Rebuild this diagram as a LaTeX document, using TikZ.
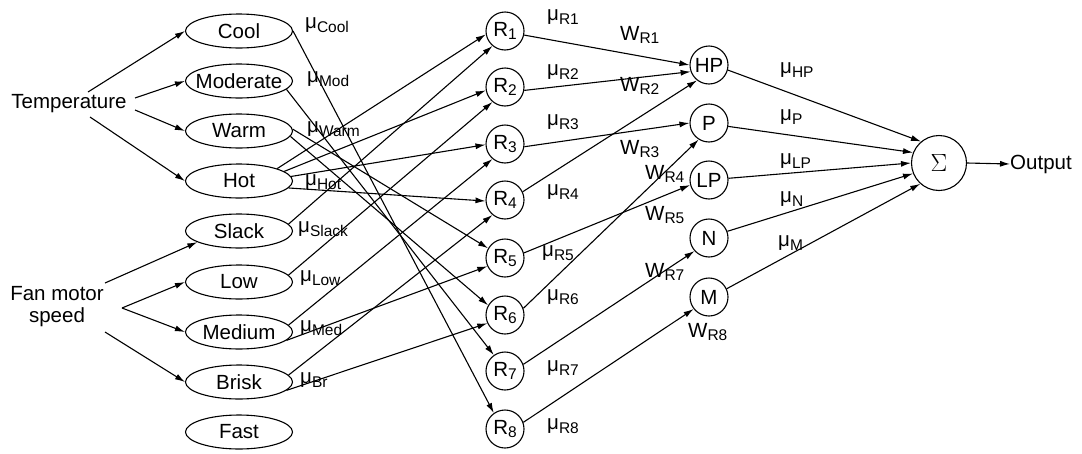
\documentclass[tikz,border=0pt]{standalone}
\usepackage{fontspec}
\setmainfont{Liberation Sans}
\usetikzlibrary{shapes.geometric,arrows.meta}
\newcommand\ssub[1]{\raisebox{-0.35ex}{\fontsize{15.5}{15.5}\selectfont #1}}
\newcommand\mulab[1]{μ\ssub{#1}}
\newcommand\wlab[1]{W\ssub{R#1}}
\newcommand\rlab[1]{R\ssub{#1}}
\begin{document}
\begin{tikzpicture}[x=1pt,y=-1pt,
  font=\fontsize{20.5}{22}\selectfont,
  ell/.style={ellipse, draw, line width=1.1pt, minimum width=107pt, minimum height=34pt, inner sep=0pt},
  rc/.style={circle, draw, line width=1.1pt, minimum size=38pt, inner sep=0pt},
  sg/.style={circle, draw, line width=1.1pt, minimum size=55pt, inner sep=0pt},
  lab/.style={inner sep=0pt, anchor=west},
  con/.style={line width=1.1pt},
  arr/.style={line width=1.1pt, -{Latex[length=10pt,width=6pt]}}]
\useasboundingbox (0,0) rectangle (1082,453);

% input variables
\node (temp) at (69,104) {Temperature};
\node[align=center, inner sep=0pt] (fan) at (57,307) {Fan motor\\[0pt]speed};
\coordinate (t1) at (88,92);
\coordinate (t2) at (135,98);
\coordinate (t3) at (135,110);
\coordinate (t4) at (90,117);
\coordinate (f1) at (105,283);
\coordinate (f2) at (122,308);
\coordinate (f3) at (105,332);

% fuzzy sets
\node[ell] (cool) at (239,31) {\makebox[0pt]{Cool}};
\node[ell] (moderate) at (239,81) {\makebox[0pt]{Moderate}};
\node[ell] (warm) at (239,131) {\makebox[0pt]{Warm}};
\node[ell] (hot) at (239,181) {\makebox[0pt]{Hot}};
\node[ell] (slack) at (239,231) {\makebox[0pt]{Slack}};
\node[ell] (low) at (239,282) {\makebox[0pt]{Low}};
\node[ell] (medium) at (239,332) {\makebox[0pt]{Medium}};
\node[ell] (brisk) at (239,382) {\makebox[0pt]{Brisk}};
\node[ell] (fast) at (239,432) {\makebox[0pt]{Fast}};

\draw[arr] (t1) -- (cool.west);
\draw[arr] (t2) -- (moderate.west);
\draw[arr] (t3) -- (warm.west);
\draw[arr] (t4) -- (hot.west);
\draw[arr] (f1) -- (slack.195);
\draw[arr] (f2) -- (low.west);
\draw[arr] (f2) -- (medium.west);
\draw[arr] (f3) -- (brisk.west);

% rules
\node[rc] (r1) at (505,31) {\rlab{1}};
\node[rc] (r2) at (505,87) {\rlab{2}};
\node[rc] (r3) at (505,144) {\rlab{3}};
\node[rc] (r4) at (505,200) {\rlab{4}};
\node[rc] (r5) at (505,258) {\rlab{5}};
\node[rc] (r6) at (505,315) {\rlab{6}};
\node[rc] (r7) at (505,371) {\rlab{7}};
\node[rc] (r8) at (505,429) {\rlab{8}};

% membership labels
\node[lab] (mucool) at (305,25) {\mulab{Cool}};
\node[lab] (mumod) at (307,79) {\mulab{Mod}};
\node[lab] (muwarm) at (307,129) {\mulab{Warm}};
\node[lab] (muhot) at (305,182) {\mulab{Hot}};
\node[lab] (muslack) at (298,229) {\mulab{Slack}};
\node[lab] (mulow) at (300,278) {\mulab{Low}};
\node[lab] (mumed) at (300,328) {\mulab{Med}};
\node[lab] (mubr) at (300,380) {\mulab{Br}};

% set -> rule connections
\draw[arr] (hot.18) -- (r1.190);
\draw[arr] (hot.12) -- (r2.190);
\draw[arr] (hot.5) -- (r3.182);
\draw[arr] (hot.-8) -- (r4.183);
\draw[arr] (slack.8) -- (r1.230);
\draw[arr] (low.8) -- (r2.230);
\draw[arr] (medium.8) -- (r3.230);
\draw[arr] (brisk.8) -- (r4.230);
\draw[arr] (medium.-10) -- (r5.205);
\draw[arr] (brisk.-10) -- (r6.205);
\draw[arr] (warm.2) -- (r5.150);
\draw[arr] (warm.-6) -- (r6.150);
\draw[arr] (moderate.-10) -- (r7.125);
\draw[arr] (cool.0) -- (r8.125);

% output sets
\node[rc] (hp) at (709,65) {HP};
\node[rc] (p) at (709,123) {P};
\node[rc] (lp) at (709,180) {LP};
\node[rc] (n) at (709,238) {N};
\node[rc] (m) at (709,297) {M};
\node[sg] (sigma) at (939,163) {\fontsize{24}{24}\selectfont$\Sigma$};
\node[inner sep=0pt, anchor=west] (out) at (1010,164) {Output};

\draw[arr] (r1.-12) -- (hp.180);
\draw[arr] (r2.-10) -- (hp.200);
\draw[arr] (r4.25) -- (hp.232);
\draw[arr] (r3.-8) -- (p.180);
\draw[arr] (r6.20) -- (p.238);
\draw[arr] (r5.15) -- (lp.195);
\draw[arr] (r7.20) -- (n.222);
\draw[arr] (r8.20) -- (m.218);

\draw[arr] (hp.-15) -- (sigma.130);
\draw[arr] (p.-10) -- (sigma.158);
\draw[arr] (lp.5) -- (sigma.180);
\draw[arr] (n.20) -- (sigma.202);
\draw[arr] (m.25) -- (sigma.228);
\draw[arr] (sigma.east) -- (out.west);

% rule strength and weight labels
\node[lab] (mur1) at (547,17) {\mulab{R1}};
\node[lab] (mur2) at (547,72) {\mulab{R2}};
\node[lab] (mur3) at (547,122) {\mulab{R3}};
\node[lab] (mur4) at (547,192) {\mulab{R4}};
\node[lab] (mur5) at (542,253) {\mulab{R5}};
\node[lab] (mur6) at (547,297) {\mulab{R6}};
\node[lab] (mur7) at (547,368) {\mulab{R7}};
\node[lab] (mur8) at (547,426) {\mulab{R8}};
\node[lab] (wr1) at (620,35) {\wlab{1}};
\node[lab] (wr2) at (620,86) {\wlab{2}};
\node[lab] (wr3) at (620,149) {\wlab{3}};
\node[lab] (wr4) at (645,174) {\wlab{4}};
\node[lab] (wr5) at (645,215) {\wlab{5}};
\node[lab] (wr7) at (645,272) {\wlab{7}};
\node[lab] (wr8) at (688,332) {\wlab{8}};
\node[lab] (muhp) at (780,70) {\mulab{HP}};
\node[lab] (mup) at (780,117) {\mulab{P}};
\node[lab] (mulp) at (780,161) {\mulab{LP}};
\node[lab] (mun) at (780,199) {\mulab{N}};
\node[lab] (mum) at (778,243) {\mulab{M}};
\end{tikzpicture}
\end{document}
